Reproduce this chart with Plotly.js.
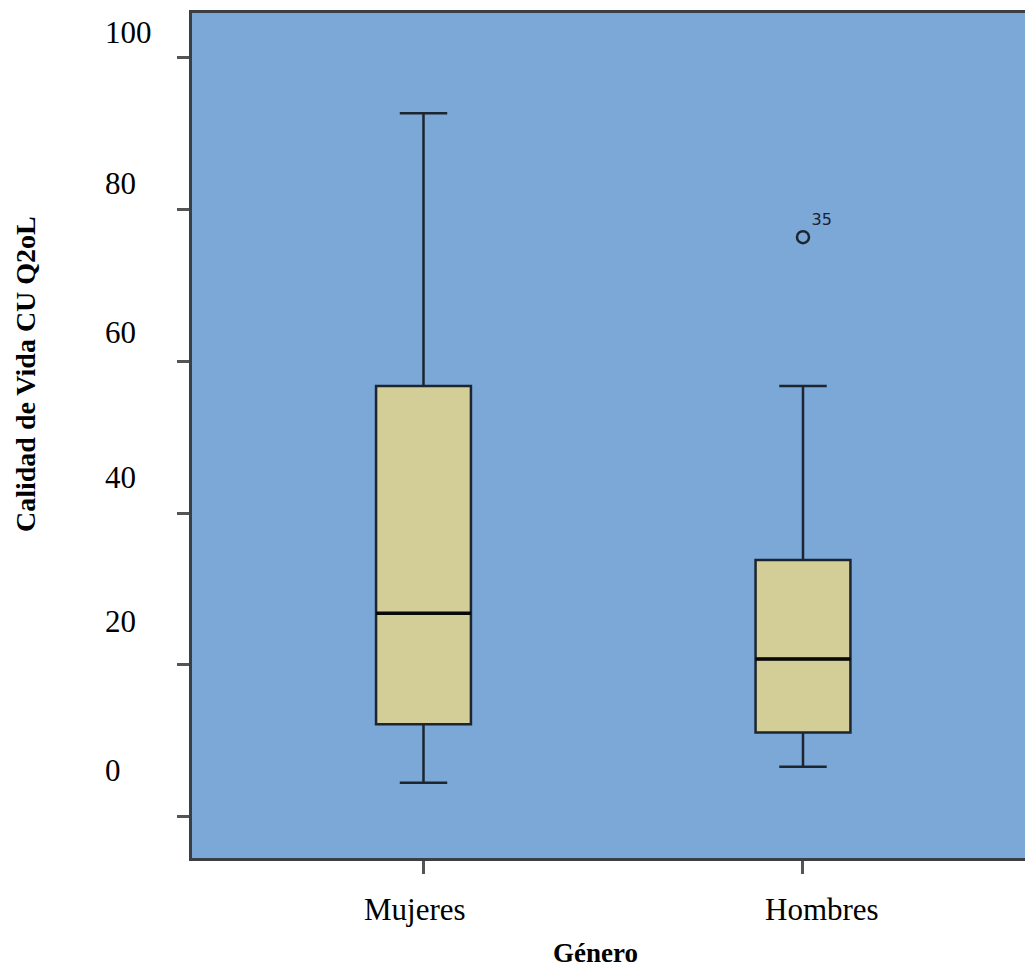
<!DOCTYPE html>
<html>
<head>
<meta charset="utf-8">
<script src="https://cdn.plot.ly/plotly-3.0.1.min.js"></script>
<style>html,body{margin:0;padding:0;background:#fff;}#chart{width:1025px;height:968px;}</style>
</head>
<body>
<div id="chart"></div>
<script>
// Data
var categories = ["Mujeres", "Hombres"];
var lowerWhisker = [4.5, 6.6];
var q1Values = [12.2, 11.1];
var medianValues = [26.8, 20.8];
var q3Values = [56.7, 33.8];
var upperWhisker = [92.6, 56.7];
var outlierCategory = ["Hombres"];
var outlierValue = [76.3];
var outlierLabel = ["35"];
var yTickValues = [0, 20, 40, 60, 80, 100];
var yTickLabels = ["0", "20", "40", "60", "80", "100"];
// tick labels in the reference sit slightly above their tick marks
var yLabelPos = [6.1, 25.7, 44.7, 63.7, 83.4, 103.2];

var serif = "Liberation Serif, Times New Roman, serif";
var lineCol = "#1c2530";

var boxTrace = {
  type: "box",
  x: categories,
  q1: q1Values,
  median: medianValues,
  q3: q3Values,
  lowerfence: lowerWhisker,
  upperfence: upperWhisker,
  width: 0.25,
  whiskerwidth: 0.5,
  fillcolor: "#d3ce97",
  line: {color: lineCol, width: 2.5},
  boxpoints: false,
  hoverinfo: "skip",
  showlegend: false
};

// thicker median line: zero-height box drawn at the median
var medianTrace = {
  type: "box",
  x: categories,
  q1: medianValues,
  median: medianValues,
  q3: medianValues,
  lowerfence: medianValues,
  upperfence: medianValues,
  width: 0.25,
  whiskerwidth: 0,
  fillcolor: "rgba(0,0,0,0)",
  line: {color: "#080808", width: 3.5},
  boxpoints: false,
  hoverinfo: "skip",
  showlegend: false
};

var outlierTrace = {
  type: "scatter",
  mode: "markers+text",
  x: outlierCategory,
  y: outlierValue,
  text: outlierLabel,
  textposition: "top right",
  textfont: {family: "DejaVu Sans, sans-serif", size: 16, color: "#1a2030"},
  marker: {symbol: "circle-open", size: 12, color: lineCol, line: {width: 2.5, color: lineCol}},
  showlegend: false,
  hoverinfo: "skip"
};

var annotations = [];
for (var i = 0; i < yTickLabels.length; i++) {
  annotations.push({
    xref: "paper", yref: "y",
    x: -0.107, y: yLabelPos[i],
    xanchor: "left", yanchor: "middle",
    text: yTickLabels[i], showarrow: false,
    font: {family: serif, size: 31, color: "#000"}
  });
}
var xLabelOffset = [-0.022, 0.05];
for (var j = 0; j < categories.length; j++) {
  annotations.push({
    xref: "x", yref: "paper",
    x: j + xLabelOffset[j], y: -0.0604,
    xanchor: "center", yanchor: "middle",
    text: categories[j], showarrow: false,
    font: {family: serif, size: 31, color: "#000"}
  });
}
annotations.push({
  xref: "paper", yref: "paper", x: 0.484, y: -0.1124,
  xanchor: "center", yanchor: "middle", showarrow: false,
  text: "<b>Género</b>", font: {family: serif, size: 27, color: "#000"}
});
annotations.push({
  xref: "paper", yref: "paper", x: -0.199, y: 0.573,
  xanchor: "center", yanchor: "middle", showarrow: false, textangle: -90,
  text: "<b>Calidad de Vida CU Q2oL</b>", font: {family: serif, size: 28, color: "#000"}
});

var layout = {
  width: 1025, height: 968,
  margin: {l: 192, r: 0, t: 13, b: 110},
  paper_bgcolor: "#ffffff",
  plot_bgcolor: "#7ba8d6",
  showlegend: false,
  boxmode: "overlay",
  xaxis: {
    type: "category",
    range: [-0.61, 1.585],
    showgrid: false, zeroline: false,
    showline: true, linecolor: "#3a3f45", linewidth: 3, mirror: true,
    ticks: "outside", ticklen: 13, tickwidth: 3, tickcolor: "#555",
    showticklabels: false
  },
  yaxis: {
    range: [-5.4, 105.8],
    tickvals: yTickValues,
    showgrid: false, zeroline: false,
    showline: true, linecolor: "#3a3f45", linewidth: 3,
    ticks: "outside", ticklen: 12, tickwidth: 3, tickcolor: "#555",
    showticklabels: false
  },
  annotations: annotations
};

Plotly.newPlot("chart", [boxTrace, medianTrace, outlierTrace], layout, {displayModeBar: false, staticPlot: true});
</script>
</body>
</html>
